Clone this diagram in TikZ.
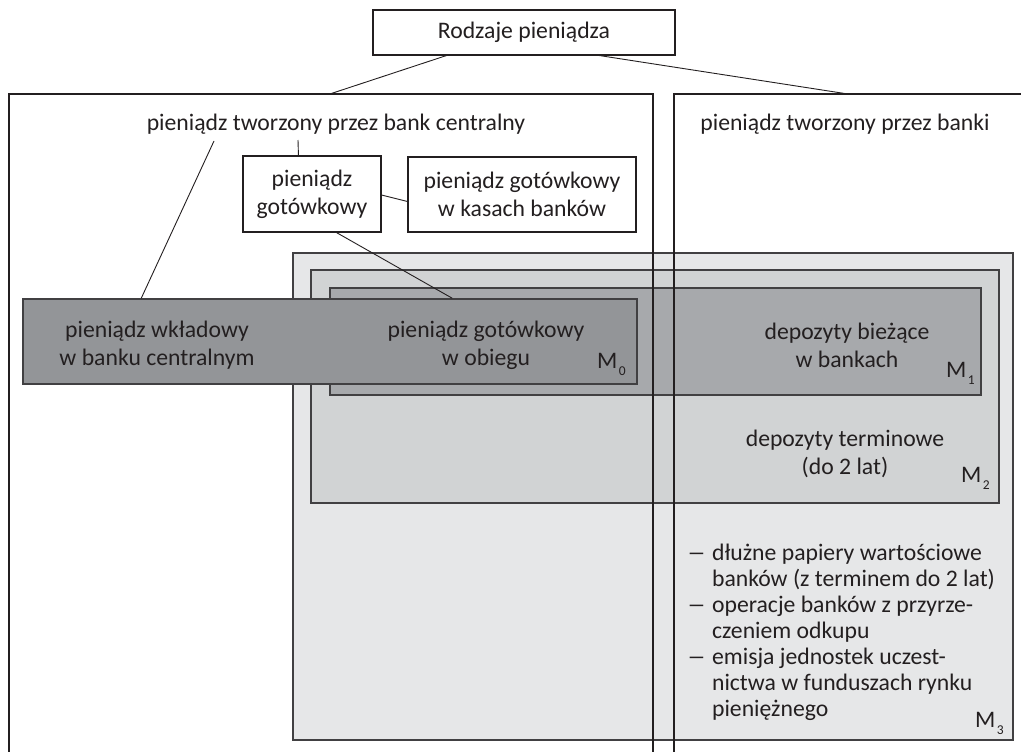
\documentclass[tikz,border=0pt]{standalone}
\usepackage{fontspec}
\usepackage{graphicx}
\setmainfont{Carlito}
\usetikzlibrary{calc}
\definecolor{ink}{HTML}{231F20}
\definecolor{mline}{HTML}{414042}
\definecolor{mthree}{HTML}{E6E7E8}
\definecolor{mtwo}{HTML}{D1D3D4}
\definecolor{mone}{HTML}{A7A9AC}
\definecolor{mdark}{HTML}{939598}
% aggregate label: M with a lowered small index
\newcommand\aggr[1]{M\hspace{1.5pt}\raisebox{-7pt}{\fontsize{13.5}{13.5}\selectfont #1}}
% list dash, a little wider than the font's own en dash
\newcommand\itemdash{\scalebox{1.6}[1]{–}}
\begin{document}
\begin{tikzpicture}[x=1pt,y=-1pt,
  every node/.style={font=\fontsize{23.7}{28}\selectfont, text=ink, inner sep=0pt},
  frame/.style={draw=ink, line width=1.1pt},
  box/.style={draw=ink, line width=1.1pt, fill=white, align=center},
  mbox/.style={draw=mline, line width=1.5pt},
  txt/.style={align=center},
  link/.style={draw=ink, line width=0.9pt},
  mlabel/.style={anchor=base east}
]
\useasboundingbox (0,0) rectangle (1021,752);
\clip (0,0) rectangle (1021,752);

% nested money aggregates M3 > M2 > M1 and the central bank deposits
\node[mbox, fill=mthree, minimum width=720, minimum height=487] (m3) at (653,496.5) {};
\node[mbox, fill=mtwo, minimum width=688, minimum height=233] (m2) at (655,386.5) {};
\node[mbox, fill=mone, minimum width=651, minimum height=107] (m1) at (655.5,341.5) {};
\node[mbox, fill=mdark, minimum width=614, minimum height=85] (wkl) at (330,341.5) {};

% the two main groups, open towards the bottom
\node[frame, minimum width=644, minimum height=706] (lbox) at (331,447) {};
\node[frame, minimum width=386, minimum height=706] (rbox) at (867,447) {};

% headings
\node[box, minimum width=302, minimum height=45] (top) at (524,32.5) {Rodzaje pieniądza};
\node[anchor=base] (cbtitle) at (336,130) {pieniądz tworzony przez bank centralny};
\node[anchor=base] (bktitle) at (845,130) {pieniądz tworzony przez banki};

% cash boxes
\node[box, minimum width=138, minimum height=76] (got) at (312,194) {pieniądz\\gotówkowy};
\node[box, minimum width=228, minimum height=75] (kas) at (522,194.5) {pieniądz gotówkowy\\w kasach banków};

% texts inside the aggregates
\node[txt] (wkltxt) at (157,345) {pieniądz wkładowy\\w banku centralnym};
\node[txt] (obieg) at (486,345) {pieniądz gotówkowy\\w obiegu};
\node[txt] (biez) at (847,345) {depozyty bieżące\\w bankach};
\node[txt] (term) at (845,454) {depozyty terminowe\\(do 2 lat)};
\node[anchor=base west] (rest) at (687,560) {\fontsize{23.7}{26}\selectfont
  \begin{tabular}[t]{@{}l@{\hspace{6pt}}l@{}}
  \itemdash & dłużne papiery wartościowe\\
    & banków (z terminem do 2 lat)\\
  \itemdash & operacje banków z przyrze-\\
    & czeniem odkupu\\
  \itemdash & emisja jednostek uczest-\\
    & nictwa w funduszach rynku\\
    & pieniężnego
  \end{tabular}};

% aggregate labels
\node[mlabel] (l0) at (626,368) {\aggr{0}};
\node[mlabel] (l1) at (975,377) {\aggr{1}};
\node[mlabel] (l2) at (990,482) {\aggr{2}};
\node[mlabel] (l3) at (1004,727) {\aggr{3}};

% connectors
\draw[link] ($(top.south west)+(74,0)$) -- ($(lbox.north west)+(323,0)$);
\draw[link] ($(top.south west)+(227,0)$) -- ($(rbox.north west)+(171,0)$);
\draw[link] ($(cbtitle.base)+(-122,11)$) -- ($(wkl.north west)+(119,0)$);
\draw[link] ($(cbtitle.base)+(-38,10)$) -- ($(got.north west)+(56,0)$);
\draw[link] ($(got.east)+(0,1)$) -- ($(kas.west)+(0,7)$);
\draw[link] ($(got.south west)+(94,0)$) -- ($(wkl.north west)+(430,0)$);
\end{tikzpicture}
\end{document}
